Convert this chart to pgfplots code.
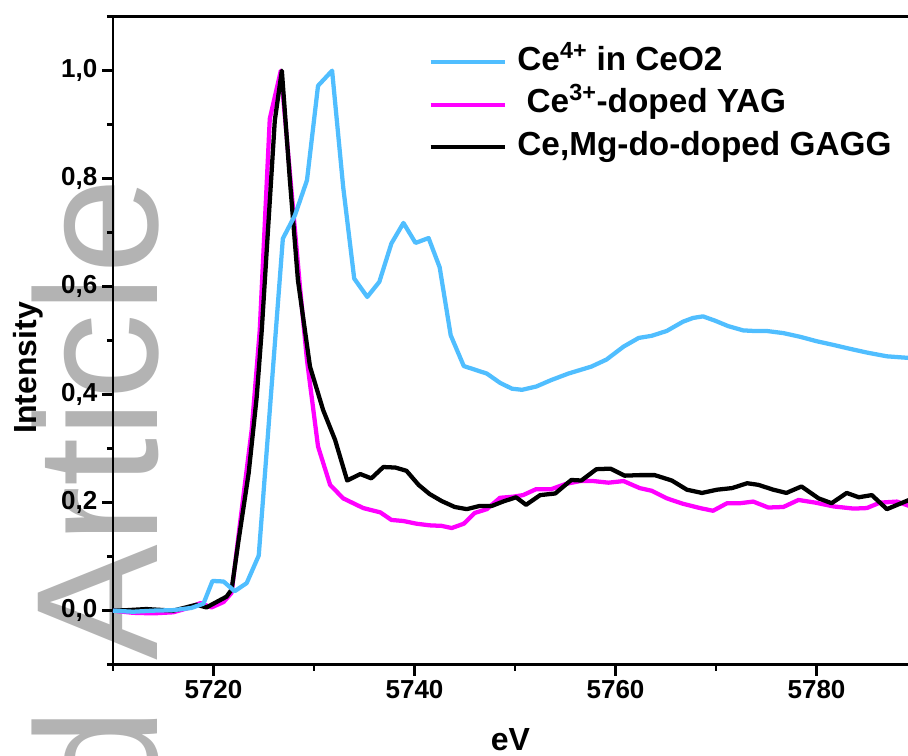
\documentclass[border=0pt]{standalone}
\usepackage{fontspec}
\setmainfont{Liberation Sans}
\usepackage{pgfplots}
\pgfplotsset{compat=1.18}
\definecolor{ceblue}{RGB}{80,190,255}
\definecolor{yagmag}{RGB}{255,0,255}
\definecolor{wmgray}{RGB}{179,179,179}

\begin{document}
\begin{tikzpicture}
% watermark behind the plot
\begin{scope}
\clip (-84.75pt,-68.5pt) rectangle (596.25pt,498.5pt);
\node[rotate=90, anchor=base east, inner sep=0pt, text=wmgray,
      font=\fontsize{130}{130}\selectfont] at (33pt,365pt) {Accepted Article};
\end{scope}

\begin{axis}[
  name=ax, at={(0,0)}, anchor=south west,
  scale only axis, width=596.25pt, height=486pt,
  xmin=5710, xmax=5789.1, ymin=-0.1, ymax=1.1,
  axis lines=left, axis line style={-, line width=2.2pt},
  tick align=outside,
  major tick length=8.25pt, minor tick length=4.5pt,
  every tick/.style={black, line width=2pt},
  xtick={5720,5740,5760,5780}, minor xtick={5710,5730,5750,5770},
  ytick={0,0.2,0.4,0.6,0.8,1.0}, minor ytick={-0.1,0.1,0.3,0.5,0.7,0.9,1.1},
  /pgf/number format/assume math mode=true,
  tick label style={font=\fontsize{19.5}{23}\selectfont\bfseries},
  xticklabel style={/pgf/number format/1000 sep={}},
  yticklabel style={/pgf/number format/.cd, fixed, fixed zerofill, precision=1, use comma},
  xlabel={eV}, ylabel={Intensity},
  label style={font=\fontsize{24}{28}\selectfont\bfseries},
  xlabel style={at={(axis description cs:0.5,-0.1156)}, anchor=center},
  ylabel style={at={(axis description cs:-0.107,0.458)}, anchor=center},
  legend style={at={(axis description cs:0.3965,0.959)}, anchor=north west,
    draw=none, fill=none, inner sep=0pt, row sep=3.9pt,
    font=\fontsize{25}{30}\selectfont\bfseries,
    nodes={inner xsep=4pt, inner ysep=2pt, text height=18pt, text depth=6pt}},
  legend cell align=left,
  legend image code/.code={\draw[#1] (0pt,0pt) -- (55.5pt,0pt); \path (59.5pt,0pt);},
  every axis plot/.append style={line width=3.2pt, line join=round},
]
\addlegendimage{ceblue, line width=3.2pt}
\addlegendentry{Ce\textsuperscript{4+} in CeO2}
\addlegendimage{yagmag, line width=3.2pt}
\addlegendentry{\ Ce\textsuperscript{3+}-doped YAG}
\addlegendimage{black, line width=3.2pt}
\addlegendentry{Ce,Mg-do-doped GAGG}

% Ce3+-doped YAG
\addplot[yagmag, forget plot] coordinates {
(5710,0.000) (5712,-0.004) (5714,-0.005) (5716,-0.003) (5717.5,0.005)
(5718.7,0.014) (5719.8,0.006) (5721.0,0.016) (5721.8,0.033) (5722.6,0.156)
(5723.8,0.335) (5724.6,0.519) (5725.6,0.911) (5726.7,1.000) (5728.6,0.600)
(5729.3,0.464) (5730.4,0.304) (5731.6,0.233) (5732.9,0.208) (5734.9,0.190)
(5736.6,0.182) (5737.7,0.168) (5738.9,0.166) (5740.2,0.161) (5741.5,0.158)
(5742.7,0.157) (5743.7,0.153) (5744.9,0.161) (5746.0,0.181) (5747.2,0.188)
(5748.5,0.209) (5749.8,0.211) (5750.8,0.214) (5752.1,0.225) (5753.6,0.225)
(5755.1,0.235) (5756.5,0.240) (5757.8,0.240) (5759.3,0.237) (5760.8,0.240)
(5762.4,0.227) (5763.6,0.222) (5765.1,0.208) (5766.7,0.198) (5768.4,0.190)
(5769.7,0.185) (5771.1,0.199) (5772.4,0.199) (5773.7,0.202) (5775.2,0.191)
(5776.7,0.192) (5778.2,0.205) (5779.9,0.200) (5781.7,0.193) (5783.7,0.189)
(5785.0,0.190) (5786.3,0.200) (5788.0,0.202) (5789.2,0.194)
};

% Ce,Mg co-doped GAGG
\addplot[black, forget plot] coordinates {
(5710,0.000) (5711.5,0.001) (5713.3,0.003) (5716.0,0.000) (5718.3,0.011)
(5719.3,0.006) (5721.3,0.026) (5721.8,0.039) (5722.5,0.131) (5723.5,0.255)
(5724.3,0.396) (5724.8,0.519) (5726.1,0.908) (5726.8,1.000) (5727.6,0.797)
(5728.4,0.612) (5729.6,0.452) (5730.9,0.372) (5732.1,0.316) (5733.3,0.241)
(5734.6,0.253) (5735.7,0.245) (5736.9,0.266) (5738.1,0.265) (5739.2,0.259)
(5740.4,0.233) (5741.5,0.216) (5742.7,0.203) (5744.0,0.192) (5745.2,0.188)
(5746.5,0.194) (5747.7,0.194) (5748.8,0.202) (5750.1,0.210) (5751.1,0.196)
(5752.5,0.214) (5754.0,0.217) (5755.6,0.242) (5756.6,0.241) (5758.1,0.262)
(5759.5,0.263) (5760.9,0.250) (5762.4,0.251) (5763.9,0.251) (5765.6,0.241)
(5767.1,0.224) (5768.6,0.218) (5770.1,0.224) (5771.6,0.227) (5773.1,0.236)
(5774.2,0.233) (5775.7,0.224) (5777.0,0.218) (5778.5,0.230) (5780.2,0.208)
(5781.5,0.199) (5783.0,0.218) (5784.2,0.210) (5785.5,0.214) (5787.0,0.188)
(5789.2,0.205)
};

% Ce4+ in CeO2
\addplot[ceblue, forget plot] coordinates {
(5710,0.000) (5712,-0.002) (5714,0.000) (5716,0.001) (5717.8,0.005)
(5719.0,0.013) (5719.9,0.055) (5721.0,0.054) (5722.1,0.036) (5723.3,0.051)
(5724.5,0.102) (5726.9,0.689) (5728.1,0.732) (5729.3,0.797) (5730.4,0.972)
(5731.8,1.000) (5732.9,0.785) (5734.0,0.615) (5735.3,0.581) (5736.5,0.609)
(5737.7,0.680) (5738.9,0.718) (5740.1,0.681) (5741.4,0.690) (5742.5,0.636)
(5743.6,0.510) (5744.9,0.453) (5747.2,0.439) (5748.5,0.422) (5749.7,0.411)
(5750.7,0.409) (5752.1,0.415) (5753.6,0.427) (5755.3,0.439) (5757.6,0.452)
(5759.1,0.465) (5760.8,0.489) (5762.3,0.505) (5763.6,0.509) (5765.1,0.518)
(5766.7,0.535) (5767.7,0.542) (5768.7,0.545) (5769.9,0.537) (5771.2,0.527)
(5772.7,0.519) (5773.7,0.518) (5775.0,0.518) (5776.7,0.514) (5778.4,0.507)
(5780.0,0.499) (5781.7,0.492) (5783.3,0.485) (5785.0,0.478) (5787.0,0.471)
(5789.2,0.468)
};
\end{axis}
% top frame line (no right spine in the reference)
\draw[line width=2.2pt] (-1.1pt,486pt) -- (596.25pt,486pt);
\pgfresetboundingbox
\useasboundingbox (-84.75pt,-68.5pt) rectangle (596.25pt,498.5pt);
\end{tikzpicture}
\end{document}
